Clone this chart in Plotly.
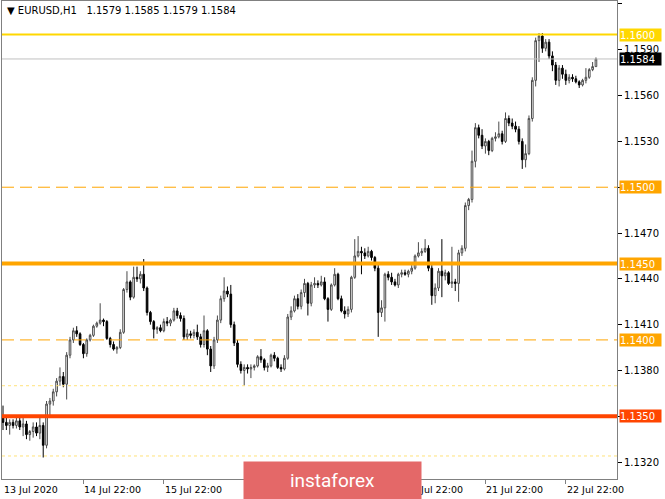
import plotly.graph_objects as go

# ---------------- data (EURUSD H1) ----------------
opens = [1.1350, 1.1346, 1.1344, 1.1346, 1.1344, 1.1347, 1.1343, 1.1345, 1.1338, 1.1340,
         1.1343, 1.1339, 1.1344, 1.1331, 1.1358, 1.1360, 1.1366, 1.1373, 1.1376, 1.1371,
         1.1390, 1.1400, 1.1406, 1.1404, 1.1397, 1.1391, 1.1400, 1.1403, 1.1409, 1.1411,
         1.1413, 1.1412, 1.1401, 1.1397, 1.1394, 1.1395, 1.1405, 1.1433, 1.1438, 1.1428,
         1.1441, 1.1440, 1.1443, 1.1434, 1.1418, 1.1412, 1.1407, 1.1408, 1.1406, 1.1412,
         1.1411, 1.1413, 1.1419, 1.1416, 1.1414, 1.1402, 1.1404, 1.1403, 1.1405, 1.1402,
         1.1397, 1.1406, 1.1394, 1.1383, 1.1400, 1.1413, 1.1427, 1.1432, 1.1430, 1.1410,
         1.1398, 1.1384, 1.1380, 1.1382, 1.1381, 1.1382, 1.1383, 1.1389, 1.1387, 1.1382,
         1.1383, 1.1390, 1.1388, 1.1382, 1.1381, 1.1388, 1.1415, 1.1419, 1.1427, 1.1422,
         1.1431, 1.1437, 1.1424, 1.1436, 1.1437, 1.1436, 1.1438, 1.1427, 1.1420, 1.1436,
         1.1443, 1.1427, 1.1419, 1.1417, 1.1420, 1.1441, 1.1455, 1.1458, 1.1457, 1.1455,
         1.1458, 1.1454, 1.1447, 1.1418, 1.1421, 1.1443, 1.1441, 1.1438, 1.1436, 1.1443,
         1.1444, 1.1443, 1.1445, 1.1447, 1.1455, 1.1457, 1.1458, 1.1460, 1.1447, 1.1429,
         1.1434, 1.1445, 1.1442, 1.1444, 1.1437, 1.1438, 1.1437, 1.1457, 1.1460, 1.1488,
         1.1492, 1.1517, 1.1539, 1.1534, 1.1527, 1.1530, 1.1524, 1.1532, 1.1533, 1.1535,
         1.1530, 1.1545, 1.1542, 1.1540, 1.1538, 1.1530, 1.1518, 1.1522, 1.1545, 1.1570,
         1.1596, 1.1599, 1.1591, 1.1595, 1.1586, 1.1580, 1.1570, 1.1578, 1.1574, 1.1570,
         1.1572, 1.1571, 1.1569, 1.1567, 1.1570, 1.1572, 1.1577, 1.1579]

highs = [1.1357, 1.1349, 1.1348, 1.1348, 1.1350, 1.1349, 1.1350, 1.1347, 1.1341, 1.1346,
         1.1346, 1.1349, 1.1346, 1.1360, 1.1362, 1.1368, 1.1375, 1.1382, 1.1379, 1.1392,
         1.1402, 1.1408, 1.1409, 1.1405, 1.1398, 1.1401, 1.1404, 1.1410, 1.1412, 1.1424,
         1.1414, 1.1413, 1.1402, 1.1399, 1.1396, 1.1407, 1.1434, 1.1445, 1.1439, 1.1448,
         1.1448, 1.1445, 1.1453, 1.1435, 1.1419, 1.1413, 1.1409, 1.1410, 1.1414, 1.1415,
         1.1414, 1.1421, 1.1421, 1.1418, 1.1416, 1.1407, 1.1406, 1.1407, 1.1410, 1.1404,
         1.1416, 1.1407, 1.1396, 1.1402, 1.1416, 1.1429, 1.1441, 1.1435, 1.1436, 1.1412,
         1.1400, 1.1386, 1.1384, 1.1384, 1.1384, 1.1384, 1.1390, 1.1394, 1.1388, 1.1385,
         1.1391, 1.1392, 1.1389, 1.1384, 1.1390, 1.1417, 1.1422, 1.1429, 1.1430, 1.1433,
         1.1440, 1.1438, 1.1438, 1.1441, 1.1439, 1.1442, 1.1441, 1.1428, 1.1437, 1.1447,
         1.1444, 1.1429, 1.1422, 1.1422, 1.1442, 1.1466, 1.1468, 1.1461, 1.1460, 1.1461,
         1.1459, 1.1455, 1.1449, 1.1426, 1.1444, 1.1445, 1.1444, 1.1440, 1.1444, 1.1446,
         1.1446, 1.1446, 1.1449, 1.1456, 1.1464, 1.1460, 1.1466, 1.1462, 1.1449, 1.1437,
         1.1447, 1.1466, 1.1446, 1.1445, 1.1461, 1.1440, 1.1459, 1.1462, 1.1490, 1.1493,
         1.1524, 1.1542, 1.1541, 1.1538, 1.1532, 1.1531, 1.1533, 1.1536, 1.1543, 1.1537,
         1.1549, 1.1547, 1.1545, 1.1543, 1.1540, 1.1532, 1.1528, 1.1547, 1.1572, 1.1598,
         1.1601, 1.1601, 1.1597, 1.1597, 1.1589, 1.1582, 1.1580, 1.1580, 1.1577, 1.1574,
         1.1574, 1.1573, 1.1570, 1.1571, 1.1578, 1.1578, 1.1582, 1.1585]

lows = [1.1341, 1.1341, 1.1338, 1.1342, 1.1342, 1.1341, 1.1337, 1.1335, 1.1334, 1.1336,
        1.1337, 1.1335, 1.1323, 1.1329, 1.1350, 1.1357, 1.1363, 1.1370, 1.1369, 1.1361,
        1.1388, 1.1398, 1.1402, 1.1396, 1.1388, 1.1389, 1.1399, 1.1402, 1.1408, 1.1410,
        1.1409, 1.1400, 1.1395, 1.1393, 1.1391, 1.1394, 1.1404, 1.1431, 1.1426, 1.1427,
        1.1438, 1.1437, 1.1432, 1.1416, 1.1410, 1.1401, 1.1404, 1.1405, 1.1405, 1.1409,
        1.1409, 1.1412, 1.1414, 1.1412, 1.1400, 1.1400, 1.1401, 1.1401, 1.1400, 1.1395,
        1.1395, 1.1390, 1.1379, 1.1381, 1.1398, 1.1411, 1.1425, 1.1428, 1.1408, 1.1396,
        1.1382, 1.1378, 1.1370, 1.1378, 1.1375, 1.1380, 1.1382, 1.1385, 1.1380, 1.1379,
        1.1382, 1.1386, 1.1381, 1.1379, 1.1380, 1.1387, 1.1413, 1.1418, 1.1420, 1.1420,
        1.1428, 1.1416, 1.1422, 1.1434, 1.1434, 1.1435, 1.1426, 1.1412, 1.1419, 1.1435,
        1.1426, 1.1418, 1.1414, 1.1415, 1.1418, 1.1440, 1.1454, 1.1443, 1.1453, 1.1454,
        1.1452, 1.1445, 1.1402, 1.1415, 1.1412, 1.1439, 1.1436, 1.1435, 1.1434, 1.1441,
        1.1442, 1.1441, 1.1443, 1.1446, 1.1454, 1.1455, 1.1457, 1.1445, 1.1423, 1.1424,
        1.1432, 1.1428, 1.1439, 1.1436, 1.1434, 1.1432, 1.1425, 1.1455, 1.1458, 1.1485,
        1.1490, 1.1513, 1.1532, 1.1525, 1.1522, 1.1521, 1.1523, 1.1530, 1.1532, 1.1528,
        1.1529, 1.1540, 1.1538, 1.1536, 1.1528, 1.1512, 1.1513, 1.1521, 1.1543, 1.1566,
        1.1582, 1.1588, 1.1589, 1.1584, 1.1576, 1.1567, 1.1566, 1.1571, 1.1567, 1.1568,
        1.1569, 1.1568, 1.1565, 1.1566, 1.1568, 1.1571, 1.1576, 1.1579]

closes = [1.1346, 1.1344, 1.1346, 1.1344, 1.1347, 1.1343, 1.1345, 1.1338, 1.1340, 1.1343,
          1.1339, 1.1344, 1.1331, 1.1358, 1.1360, 1.1366, 1.1373, 1.1376, 1.1371, 1.1390,
          1.1400, 1.1406, 1.1404, 1.1397, 1.1391, 1.1400, 1.1403, 1.1409, 1.1411, 1.1413,
          1.1412, 1.1401, 1.1397, 1.1394, 1.1395, 1.1405, 1.1433, 1.1438, 1.1428, 1.1441,
          1.1440, 1.1443, 1.1434, 1.1418, 1.1412, 1.1407, 1.1408, 1.1406, 1.1412, 1.1411,
          1.1413, 1.1419, 1.1416, 1.1414, 1.1402, 1.1404, 1.1403, 1.1405, 1.1402, 1.1397,
          1.1406, 1.1394, 1.1383, 1.1400, 1.1413, 1.1427, 1.1432, 1.1430, 1.1410, 1.1398,
          1.1384, 1.1380, 1.1382, 1.1381, 1.1382, 1.1383, 1.1389, 1.1387, 1.1382, 1.1383,
          1.1390, 1.1388, 1.1382, 1.1381, 1.1388, 1.1415, 1.1419, 1.1427, 1.1422, 1.1431,
          1.1437, 1.1424, 1.1436, 1.1437, 1.1436, 1.1438, 1.1427, 1.1420, 1.1436, 1.1443,
          1.1427, 1.1419, 1.1417, 1.1420, 1.1441, 1.1455, 1.1458, 1.1457, 1.1455, 1.1458,
          1.1454, 1.1447, 1.1418, 1.1421, 1.1443, 1.1441, 1.1438, 1.1436, 1.1443, 1.1444,
          1.1443, 1.1445, 1.1447, 1.1455, 1.1457, 1.1458, 1.1460, 1.1447, 1.1429, 1.1434,
          1.1445, 1.1442, 1.1444, 1.1437, 1.1438, 1.1437, 1.1457, 1.1460, 1.1488, 1.1492,
          1.1517, 1.1539, 1.1534, 1.1527, 1.1530, 1.1524, 1.1532, 1.1533, 1.1535, 1.1530,
          1.1545, 1.1542, 1.1540, 1.1538, 1.1530, 1.1518, 1.1522, 1.1545, 1.1570, 1.1596,
          1.1599, 1.1591, 1.1595, 1.1586, 1.1580, 1.1570, 1.1578, 1.1574, 1.1570, 1.1572,
          1.1571, 1.1569, 1.1567, 1.1570, 1.1572, 1.1577, 1.1579, 1.1584]

bar_index = list(range(len(closes)))

x_tick_pos = [0, 24, 48, 72, 96, 120, 144, 168]
x_tick_text = ["13 Jul 2020", "14 Jul 22:00", "15 Jul 22:00", "16 Jul 22:00",
               "17 Jul 22:00", "20 Jul 22:00", "21 Jul 22:00", "22 Jul 22:00"]

y_tick_vals = [1.1320, 1.1350, 1.1380, 1.1410, 1.1440, 1.1470,
               1.1500, 1.1530, 1.1560, 1.1590, 1.1620]
# labels of 1.1350 / 1.1500 are shown by the coloured level tags instead
y_tick_text = ["1.1320", "", "1.1380", "1.1410", "1.1440", "1.1470",
               "", "1.1530", "1.1560", "1.1590", "1.1620"]

level_prices = [1.1600, 1.1584, 1.1500, 1.1450, 1.1400, 1.1370, 1.1350, 1.1324]
tag_prices = [1.1600, 1.1584, 1.1500, 1.1450, 1.1400, 1.1350]
tag_texts = ["1.1600", "1.1584", "1.1500", "1.1450", "1.1400", "1.1350"]

title_text = "▼ EURUSD,H1\u00a0\u00a0 1.1579 1.1585 1.1579 1.1584"
watermark_text = "instaforex"

# ---------------- styles ----------------
level_colors = ["#FFD700", "#C0C0C0", "#FFA500", "#FFA500", "#FFA500", "#FFE27A", "#FF4500", "#FFE27A"]
level_widths = [2, 1, 1, 4, 1, 1, 4, 1]
level_dashes = ["solid", "solid", "12px,6px", "solid", "12px,6px", "dot", "solid", "dot"]
tag_colors = ["#FFD700", "#000000", "#FFA500", "#FFA500", "#FFA500", "#FF4500"]

FONT = "DejaVu Sans"

fig = go.Figure()
fig.add_trace(go.Candlestick(
    x=bar_index, open=opens, high=highs, low=lows, close=closes,
    increasing=dict(line=dict(color="#4a4a4a", width=1), fillcolor="#ffffff"),
    decreasing=dict(line=dict(color="#000000", width=1), fillcolor="#000000"),
    whiskerwidth=0, showlegend=False, hoverinfo="skip",
))

shapes = []
for p, c, w, d in zip(level_prices, level_colors, level_widths, level_dashes):
    shapes.append(dict(type="line", xref="paper", yref="y", x0=0, x1=1, y0=p, y1=p,
                       line=dict(color=c, width=w, dash=d), layer="above"))

annotations = []
for p, t, c in zip(tag_prices, tag_texts, tag_colors):
    annotations.append(dict(x=1, xref="paper", y=p, yref="y", xanchor="left", yanchor="middle",
                            xshift=2, text=t, showarrow=False, bgcolor=c, width=41, height=12,
                            align="left", borderpad=0,
                            font=dict(family=FONT, size=10, color="#ffffff")))

for pos, txt in zip(x_tick_pos, x_tick_text):
    annotations.append(dict(x=pos, xref="x", y=0, yref="paper", xanchor="left", yanchor="top",
                            xshift=-1, yshift=-3, text=txt, showarrow=False,
                            font=dict(family=FONT, size=9.5, color="#000000")))

annotations.append(dict(x=0, xref="paper", y=1, yref="paper", xanchor="left", yanchor="top",
                        xshift=3, yshift=-2, text=title_text, showarrow=False, bgcolor="#ffffff",
                        font=dict(family=FONT, size=10, color="#000000")))

# watermark (opaque box drawn over the axis labels, as in the source)
annotations.append(dict(x=0.538, xref="paper", y=-0.004, yref="paper", xanchor="center",
                        yanchor="middle", text=watermark_text, showarrow=False,
                        width=177, height=37, bgcolor="#E46868", borderpad=0,
                        font=dict(family="Roboto", size=19, color="#ffffff")))

fig.update_layout(
    width=665, height=499,
    margin=dict(l=2, r=48, t=1, b=20),
    paper_bgcolor="#ffffff", plot_bgcolor="#ffffff",
    shapes=shapes, annotations=annotations,
    xaxis=dict(range=[-0.3, 183.28], rangeslider=dict(visible=False), showgrid=False,
               zeroline=False, showline=True, linecolor="#808080", linewidth=1, mirror=True,
               ticks="outside", tickvals=x_tick_pos[1:], ticklen=4, tickcolor="#808080",
               showticklabels=False, fixedrange=True),
    yaxis=dict(side="right", range=[1.130892, 1.162196], tickvals=y_tick_vals,
               ticktext=y_tick_text, ticks="outside", ticklen=4, tickcolor="#000000",
               tickfont=dict(family=FONT, size=10, color="#000000"),
               showline=True, linecolor="#808080", linewidth=1, mirror=True,
               showgrid=False, zeroline=False, fixedrange=True, automargin=False),
)

fig.write_html("out.html", config={"displayModeBar": False},
               post_script="document.body.style.margin='0';document.body.style.padding='0';")
